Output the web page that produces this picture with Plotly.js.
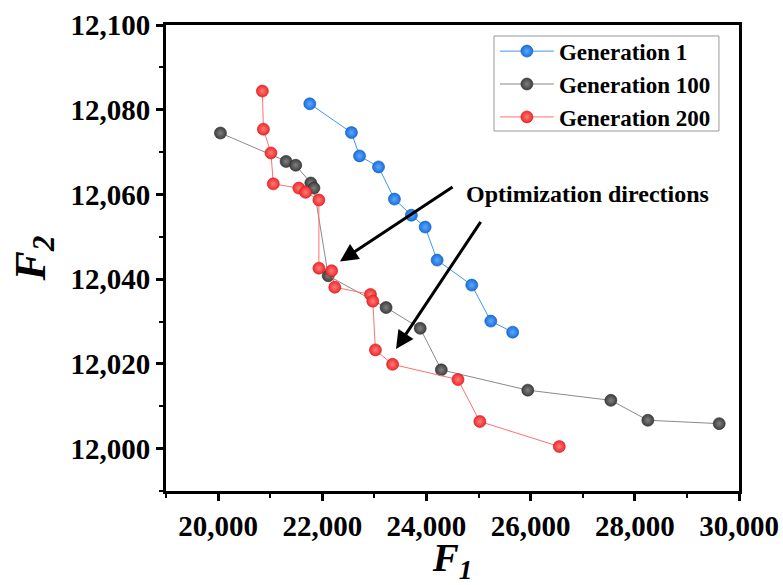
<!DOCTYPE html>
<html>
<head>
<meta charset="utf-8">
<script src="https://cdn.plot.ly/plotly-3.0.1.min.js"></script>
<style>html,body{margin:0;padding:0;background:#fff;}#chart{width:783px;height:585px;}</style>
</head>
<body>
<div id="chart"></div>
<script>
// Generation 1
const gen1F1 = [21760, 22560, 22715, 23080, 23385, 23710, 23975, 24205, 24870, 25235, 25655];
const gen1F2 = [12081.4, 12074.6, 12069.1, 12066.5, 12058.9, 12055.1, 12052.3, 12044.5, 12038.6, 12030.1, 12027.5];
// Generation 100
const gen100F1 = [20045, 21305, 21490, 21780, 21840, 22115, 23225, 23880, 24285, 25945, 27540, 28250, 29620];
const gen100F2 = [12074.5, 12067.8, 12066.9, 12062.7, 12061.5, 12040.8, 12033.3, 12028.4, 12018.6, 12013.8, 12011.4, 12006.7, 12005.9];
// Generation 200
const gen200F1 = [20850, 20870, 21015, 21060, 21550, 21680, 21935, 21935, 22180, 22240, 22925, 22970, 23020, 23350, 24605, 25025, 26550];
const gen200F2 = [12084.4, 12075.4, 12069.8, 12062.5, 12061.5, 12060.5, 12058.7, 12042.6, 12042.0, 12038.1, 12036.4, 12034.8, 12023.3, 12019.9, 12016.3, 12006.4, 12000.5];

const seriesNames = ["Generation 1", "Generation 100", "Generation 200"];
const annotationText = "Optimization directions";
// arrows: [tailF1, tailF2, tipF1, tipF2]
const arrow1 = [24530, 12062.0, 22340, 12044.2];
const arrow2 = [25060, 12053.9, 23415, 12023.5];

const serif = "'Liberation Serif', 'Times New Roman', serif";

function trace(x, y, name, lineColor, markerColor, edgeColor, hiColor) {
  return {
    x: x, y: y, name: name, type: 'scatter', mode: 'lines+markers',
    line: {color: lineColor, width: 1},
    marker: {size: 12, color: markerColor, line: {color: edgeColor, width: 0.6},
             gradient: {type: 'radial', color: hiColor}},
  };
}

const data = [
  trace(gen1F1, gen1F2, seriesNames[0], '#3f97ee', '#1a70dc', '#0c55b0', '#5aa8ff'),
  trace(gen100F1, gen100F2, seriesNames[1], '#8a8a8a', '#3f3f3f', '#2a2a2a', '#808080'),
  trace(gen200F1, gen200F2, seriesNames[2], '#ff7070', '#f02a2a', '#d01515', '#ff7a7a'),
];

const tickFont = {family: serif, size: 29, color: '#000', weight: 'bold'};

const layout = {
  width: 783, height: 585,
  margin: {l: 166, r: 44, t: 25, b: 94},
  paper_bgcolor: '#fff', plot_bgcolor: '#fff',
  showlegend: true,
  legend: {
    x: 0.574, y: 0.99, xanchor: 'left', yanchor: 'top',
    bgcolor: 'rgba(0,0,0,0)', borderwidth: 0,
    font: {family: serif, size: 23, color: '#000', weight: 'bold'},
    itemwidth: 54, tracegroupgap: 0
  },
  shapes: [
    {type: 'rect', xref: 'paper', yref: 'paper', x0: 0.5724, x1: 0.965, y0: 0.7725, y1: 0.9764,
     line: {color: '#999', width: 1}, fillcolor: 'rgba(0,0,0,0)', layer: 'below'}
  ],
  xaxis: {
    range: [19000, 30000], tick0: 20000, dtick: 2000, tickformat: ',d',
    showgrid: false, zeroline: false,
    showline: true, linecolor: '#000', linewidth: 3, mirror: true,
    ticks: 'outside', ticklen: 7, tickwidth: 3, tickcolor: '#000',
    minor: {dtick: 1000, ticks: 'outside', ticklen: 4, tickwidth: 2, tickcolor: '#000', showgrid: false},
    tickfont: tickFont,
    title: {text: '<b><i>F</i><sub><i>1</i></sub></b>', font: {family: serif, size: 39, color: '#000'}, standoff: 8}
  },
  yaxis: {
    range: [11990, 12100], tick0: 12000, dtick: 20, tickformat: ',d',
    showgrid: false, zeroline: false,
    showline: true, linecolor: '#000', linewidth: 3, mirror: true,
    ticks: 'outside', ticklen: 7, tickwidth: 3, tickcolor: '#000',
    minor: {dtick: 10, ticks: 'outside', ticklen: 4, tickwidth: 2, tickcolor: '#000', showgrid: false},
    tickfont: tickFont,
    title: {text: '<b><i>F</i><sub><i>2</i></sub></b>', font: {family: serif, size: 44, color: '#000'}, standoff: 12}
  },
  annotations: [
    {x: arrow1[2], y: arrow1[3], ax: arrow1[0], ay: arrow1[1], xref: 'x', yref: 'y', axref: 'x', ayref: 'y',
     showarrow: true, arrowhead: 2, arrowsize: 1.2, arrowwidth: 3, arrowcolor: '#000', text: ''},
    {x: arrow2[2], y: arrow2[3], ax: arrow2[0], ay: arrow2[1], xref: 'x', yref: 'y', axref: 'x', ayref: 'y',
     showarrow: true, arrowhead: 2, arrowsize: 1.2, arrowwidth: 3, arrowcolor: '#000', text: ''},
    {x: 0.52, y: 0.637, xref: 'paper', yref: 'paper', xanchor: 'left', yanchor: 'middle',
     showarrow: false, text: '<b>' + annotationText + '</b>',
     font: {family: serif, size: 24, color: '#000'}}
  ]
};

Plotly.newPlot('chart', data, layout, {displayModeBar: false, staticPlot: true});
</script>
</body>
</html>
